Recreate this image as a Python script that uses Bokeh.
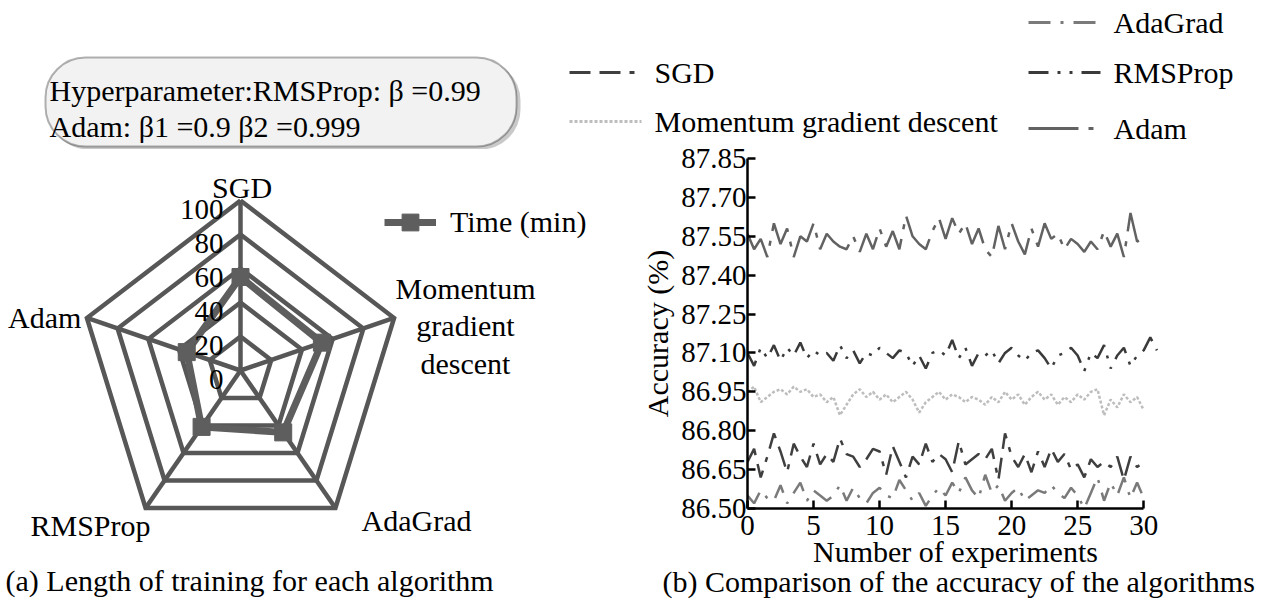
import numpy as np
from bokeh.plotting import figure
from bokeh.models import (Range1d, FixedTicker, PrintfTickFormatter, Title,
                          BoxAnnotation, Legend, LegendItem)
from bokeh.layouts import column, row
from bokeh.embed import file_html
from bokeh.resources import INLINE
from bokeh.core.properties import value

FONT = "Liberation Serif"
FS = "30px"

# ---------------- data: radar (training time) ----------------
radar_categories = ["SGD", "Momentum gradient descent", "AdaGrad", "RMSProp", "Adam"]
radar_time_min = [55, 53, 45, 41, 35]
radar_levels = [0, 20, 40, 60, 80, 100]
radar_level_labels = ["0", "20", "40", "60", "80", "100"]

# ---------------- data: accuracy lines ----------------
x_ticks = [0, 5, 10, 15, 20, 25, 30]
y_ticks = [86.50, 86.65, 86.80, 86.95, 87.10, 87.25, 87.40, 87.55, 87.70, 87.85]
adam = [87.56, 87.50, 87.54, 87.47, 87.60, 87.52, 87.58, 87.47, 87.55, 87.53,
        87.60, 87.50, 87.56, 87.53, 87.51, 87.50, 87.55, 87.49, 87.56, 87.50,
        87.58, 87.51, 87.57, 87.50, 87.63, 87.55, 87.52, 87.50, 87.57, 87.62,
        87.54, 87.62, 87.56, 87.60, 87.52, 87.58, 87.50, 87.47, 87.59, 87.50,
        87.60, 87.53, 87.48, 87.58, 87.51, 87.60, 87.54, 87.56, 87.50, 87.54,
        87.52, 87.49, 87.53, 87.50, 87.57, 87.51, 87.56, 87.47, 87.64, 87.53, 87.54]
rmsprop = [87.10, 87.05, 87.12, 87.08, 87.13, 87.07, 87.12, 87.09, 87.14, 87.08,
           87.11, 87.09, 87.10, 87.07, 87.13, 87.08, 87.11, 87.06, 87.10, 87.09,
           87.12, 87.10, 87.08, 87.11, 87.10, 87.05, 87.09, 87.04, 87.10, 87.11,
           87.09, 87.15, 87.08, 87.12, 87.05, 87.10, 87.09, 87.11, 87.06, 87.10,
           87.12, 87.09, 87.07, 87.10, 87.11, 87.08, 87.04, 87.09, 87.10, 87.12,
           87.09, 87.03, 87.10, 87.08, 87.13, 87.04, 87.09, 87.12, 87.05, 87.09,
           87.11, 87.16, 87.11]
momentum = [86.95, 86.97, 86.91, 86.93, 86.95, 86.96, 86.94, 86.97, 86.95, 86.96,
            86.93, 86.94, 86.91, 86.93, 86.86, 86.90, 86.94, 86.96, 86.93, 86.95,
            86.92, 86.94, 86.91, 86.93, 86.95, 86.92, 86.87, 86.91, 86.93, 86.95,
            86.92, 86.94, 86.93, 86.91, 86.93, 86.92, 86.90, 86.93, 86.91, 86.95,
            86.92, 86.94, 86.90, 86.93, 86.95, 86.92, 86.94, 86.90, 86.93, 86.91,
            86.94, 86.92, 86.95, 86.96, 86.86, 86.92, 86.89, 86.94, 86.91, 86.93, 86.88]
sgd = [86.68, 86.73, 86.62, 86.70, 86.79, 86.72, 86.64, 86.75, 86.70, 86.66,
       86.75, 86.67, 86.71, 86.68, 86.77, 86.71, 86.70, 86.66, 86.69, 86.73,
       86.72, 86.63, 86.74, 86.68, 86.62, 86.70, 86.67, 86.75, 86.68, 86.71,
       86.69, 86.64, 86.76, 86.67, 86.69, 86.71, 86.69, 86.73, 86.61, 86.79,
       86.70, 86.66, 86.71, 86.64, 86.72, 86.66, 86.73, 86.68, 86.71, 86.65,
       86.67, 86.62, 86.69, 86.66, 86.68, 86.66, 86.70, 86.61, 86.70, 86.66, 86.68]
adagrad = [86.55, 86.52, 86.57, 86.54, 86.53, 86.59, 86.52, 86.56, 86.60, 86.53,
           86.57, 86.55, 86.53, 86.55, 86.59, 86.53, 86.58, 86.54, 86.52, 86.56,
           86.58, 86.55, 86.54, 86.61, 86.57, 86.53, 86.56, 86.51, 86.55, 86.58,
           86.55, 86.60, 86.56, 86.62, 86.57, 86.54, 86.63, 86.56, 86.59, 86.53,
           86.56, 86.58, 86.53, 86.55, 86.57, 86.56, 86.59, 86.56, 86.54, 86.58,
           86.55, 86.50, 86.56, 86.62, 86.53, 86.60, 86.55, 86.62, 86.54, 86.60, 86.54]
step = 0.5  # experiments are sampled every half unit

series = [
    ("SGD", sgd, "#3f3f3f", "21 9 21 9 5 9"),
    ("Momentum gradient descent", momentum, "#bdbdbd", "3 2"),
    ("AdaGrad", adagrad, "#7a7a7a", "22 10 3 10"),
    ("RMSProp", rmsprop, "#3a3a3a", "20 9 3 9 3 9"),
    ("Adam", adam, "#626262", "50 10 5 10"),
]

# ================= top strip: hyperparameter box + line legend =================
TOP_H = 149
pt = figure(width=1274, height=TOP_H, x_range=Range1d(0, 1274), y_range=Range1d(TOP_H, 0),
            x_axis_type=None, y_axis_type=None, output_backend="svg",
            toolbar_location=None, min_border=0)
pt.grid.visible = False
pt.outline_line_color = None
pt.frame_align = False

pt.add_layout(BoxAnnotation(left=48, right=520, top=60, bottom=149, border_radius=40,
                            fill_color="#c9c9c9", fill_alpha=1, line_color=None,
                            level="underlay"))
pt.add_layout(BoxAnnotation(left=45, right=516, top=57, bottom=146, border_radius=40,
                            fill_color="#f2f2f2", fill_alpha=1, line_color="black",
                            line_width=2, level="underlay"))
pt.text(x=[49, 49], y=[90, 126],
        text=["Hyperparameter:RMSProp: \u03b2 =0.99", "Adam: \u03b21 =0.9 \u03b22 =0.999"],
        text_font=value(FONT), text_font_size=FS, text_align="left",
        text_baseline="middle", text_color="black")

leg_pos = {
    "SGD": (569, 72),
    "Momentum gradient descent": (569, 121),
    "AdaGrad": (1028, 22),
    "RMSProp": (1028, 72),
    "Adam": (1028, 128),
}
for name, _, col, dash in series:
    lx, ly = leg_pos[name]
    pt.line([lx, lx + 72], [ly, ly], line_color=col, line_width=3, line_dash=dash)
    pt.text(x=[lx + 85], y=[ly], text=[name], text_font=value(FONT), text_font_size=FS,
            text_align="left", text_baseline="middle", text_color="black")

# ================= radar chart =================
W_R, H_R = 600, 450
sx, sy = 1.615, 1.7        # pixels per radar unit (x, y)
cx, cy = 240, 221          # centre in pixels from left / top
pr = figure(width=W_R, height=H_R,
            x_range=Range1d(-cx / sx, (W_R - cx) / sx),
            y_range=Range1d(-(H_R - cy) / sy, cy / sy),
            x_axis_type=None, y_axis_type=None, output_backend="svg",
            toolbar_location=None, min_border=0)
pr.grid.visible = False
pr.outline_line_color = None
pr.frame_align = False

n = len(radar_categories)
ang = np.pi / 2 - 2 * np.pi * np.arange(n) / n
GRID = "#575757"
for lv in radar_levels[1:]:
    xs = list(lv * np.cos(ang)) + [lv * np.cos(ang[0])]
    ys = list(lv * np.sin(ang)) + [lv * np.sin(ang[0])]
    pr.line(xs, ys, line_color=GRID, line_width=4.5, line_join="miter")
rmax = radar_levels[-1]
pr.segment(x0=[0] * n, y0=[0] * n, x1=list(rmax * np.cos(ang)), y1=list(rmax * np.sin(ang)),
           line_color=GRID, line_width=4.5)

vals = np.array(radar_time_min, dtype=float)
dx = list(vals * np.cos(ang)) + [vals[0] * np.cos(ang[0])]
dy = list(vals * np.sin(ang)) + [vals[0] * np.sin(ang[0])]
r_line = pr.line(dx, dy, line_color="#5e5e5e", line_width=7, line_join="miter")
r_pts = pr.scatter(list(vals * np.cos(ang)), list(vals * np.sin(ang)), marker="square",
                   size=17, fill_color="#5e5e5e", line_color="#5e5e5e")

pr.text(x=[-10.5] * len(radar_levels), y=[lv - 5.0 for lv in radar_levels],
        text=radar_level_labels, text_font=value(FONT), text_font_size="29px",
        text_align="right", text_baseline="middle", text_color="black")

# category labels
pr.text(x=[1], y=[107.6], text=["SGD"], text_font=value(FONT), text_font_size=FS,
        text_align="center", text_baseline="middle")
pr.text(x=[139.3, 139.3, 139.3], y=[48.2, 26.5, 4.1], text=["Momentum", "gradient", "descent"],
        text_font=value(FONT), text_font_size=FS, text_align="center", text_baseline="middle")
pr.text(x=[109], y=[-88.2], text=["AdaGrad"], text_font=value(FONT), text_font_size=FS,
        text_align="center", text_baseline="middle")
pr.text(x=[-92.9], y=[-91.2], text=["RMSProp"], text_font=value(FONT), text_font_size=FS,
        text_align="center", text_baseline="middle")
pr.text(x=[-98.5], y=[31.2], text=["Adam"], text_font=value(FONT), text_font_size=FS,
        text_align="right", text_baseline="middle")

pr.text(x=[-145.5], y=[-123.5], text=["(a) Length of training for each algorithm"],
        text_font=value(FONT), text_font_size=FS, text_align="left", text_baseline="middle")

rleg = Legend(items=[LegendItem(label="Time (min)", renderers=[r_line, r_pts])],
              location=(384, 356), glyph_width=52, glyph_height=42, label_standoff=14,
              label_text_font=FONT, label_text_font_size=FS, label_text_color="black",
              padding=0, margin=0, border_line_color=None, background_fill_alpha=0)
pr.add_layout(rleg, "center")

# ================= accuracy line chart =================
W_C, H_C = 674, 460
pc = figure(width=W_C, height=H_C, x_range=Range1d(0, 31.5), y_range=Range1d(86.50, 87.85),
            output_backend="svg", toolbar_location=None,
            min_border_left=147, min_border_right=111, min_border_top=19, min_border_bottom=91)
pc.margin = (-10, 0, 0, 0)
pc.grid.visible = False
pc.outline_line_color = None
pc.frame_align = False
pc.border_fill_alpha = 0
pc.background_fill_alpha = 0

for name, ys, col, dash in series:
    xs = [i * step for i in range(len(ys))]
    pc.line(xs, ys, line_color=col, line_width=2.5, line_dash=dash)

for ax in (pc.xaxis[0], pc.yaxis[0]):
    ax.axis_line_width = 2.5
    ax.axis_line_color = "black"
    ax.major_tick_line_width = 2.5
    ax.major_tick_line_color = "black"
    ax.major_tick_in = 8
    ax.major_tick_out = 0
    ax.minor_tick_line_color = None
    ax.major_label_text_font = FONT
    ax.major_label_text_font_size = "29px"
    ax.major_label_text_color = "black"
    ax.axis_label_text_font = FONT
    ax.axis_label_text_font_size = FS
    ax.axis_label_text_font_style = "normal"
    ax.axis_label_text_color = "black"

pc.xaxis.ticker = FixedTicker(ticks=x_ticks)
pc.xaxis.bounds = (x_ticks[0], x_ticks[-1])
pc.xaxis.major_label_standoff = 7
pc.xaxis.axis_label = "Number of experiments"
pc.xaxis.axis_label_standoff = -3

pc.yaxis.ticker = FixedTicker(ticks=y_ticks)
pc.yaxis.formatter = PrintfTickFormatter(format="%.2f")
pc.yaxis.major_label_standoff = 1
pc.yaxis.axis_label = "Accuracy (%)"
pc.yaxis.axis_label_standoff = 4

pc.add_layout(Title(text="(b) Comparison of the accuracy of the algorithms", align="left",
                    offset=-85, standoff=-16, text_font=FONT, text_font_size=FS,
                    text_font_style="normal", text_color="black"), "below")

layout = column(pt, row(pr, pc))
open("out.html", "w").write(file_html(layout, INLINE))
